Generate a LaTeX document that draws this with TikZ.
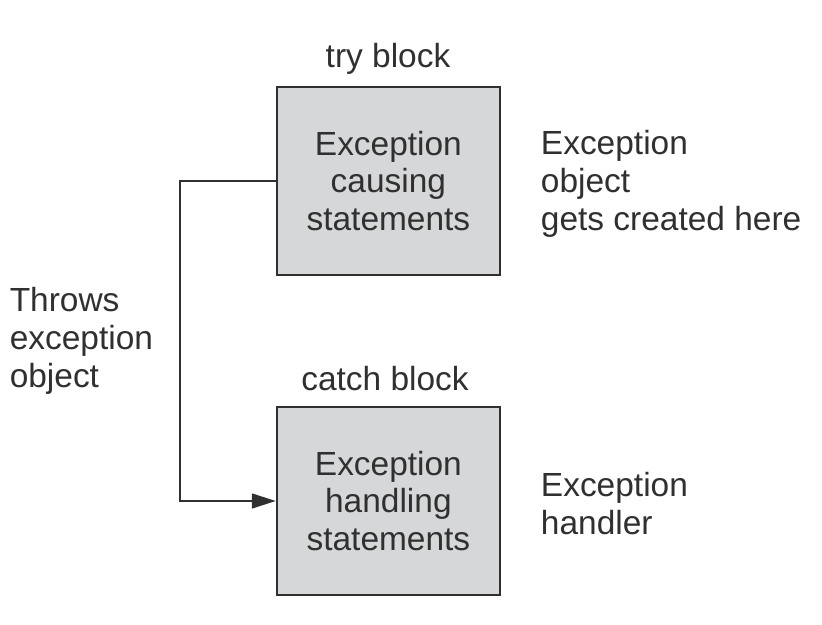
\documentclass[tikz,border=0pt]{standalone}
\usepackage{fontspec}
\setmainfont{Liberation Sans}
\usetikzlibrary{arrows.meta}
\definecolor{boxgray}{HTML}{D6D7D9}
\definecolor{ink}{HTML}{303030}
\begin{document}
\begin{tikzpicture}[
    block/.style={rectangle, draw=ink, line width=1.6pt, fill=boxgray, minimum width=5.575cm, minimum height=4.7cm, align=center, text=ink, font=\fontsize{23.8}{27}\selectfont},
    arrow/.style={-{Triangle[length=17pt, width=10.5pt]}, draw=ink, line width=1.5pt},
    note/.style={text=ink, align=left, font=\fontsize{23.8}{27}\selectfont}
]
    \useasboundingbox (0, 0) rectangle (20.55, -15.625);

    % Blocs
    \node[block] (try) at (9.71, -4.525) {Exception\\causing\\statements};
    \node[block] (catch) at (9.71, -12.525) {Exception\\handling\\statements};

    % Titres
    \node[note] (trylbl) at (9.7, -1.48) {try block};
    \node[note] (catchlbl) at (9.625, -9.47) {catch block};

    % Notes
    \node[note, anchor=west] (created) at (13.4, -4.6) {Exception\\object\\gets created here};
    \node[note, anchor=west] (handler) at (13.4, -12.6) {Exception\\handler};
    \node[note, anchor=west] (throws) at (0.12, -8.53) {Throws\\exception\\object};

    % Lien
    \draw[arrow] (try.west) -- ++(-2.4, 0) |- (catch.west);

\end{tikzpicture}
\end{document}
